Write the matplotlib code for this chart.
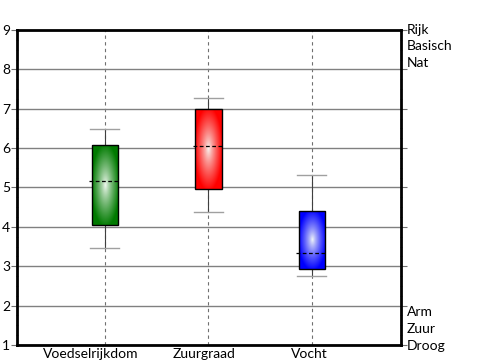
import numpy as np
import matplotlib
matplotlib.use("Agg")
import matplotlib.pyplot as plt
from matplotlib.patches import Rectangle
from matplotlib.ticker import MultipleLocator

# Gegevens
categorieen = ["Voedselrijkdom", "Zuurgraad", "Vocht"]
box_laag = [4.05, 4.96, 2.93]
box_hoog = [6.08, 7.00, 4.41]
mediaan = [5.17, 6.05, 3.34]
snor_laag = [3.46, 4.38, 2.74]
snor_hoog = [6.48, 7.27, 5.32]
kleuren = [(0.0, 0.48, 0.0), (1.0, 0.0, 0.0), (0.0, 0.0, 1.0)]
labels_boven = ["Rijk", "Basisch", "Nat"]
labels_onder = ["Arm", "Zuur", "Droog"]
label_verschuiving = [-0.135, -0.045, -0.025]

plt.rcParams['font.family'] = ['Lato', 'DejaVu Sans']

fig = plt.figure(figsize=(5, 3.6), dpi=100)
ax = fig.add_axes([0.034, 0.0417, 0.768, 0.875])

breedte = 0.26
for i, cat in enumerate(categorieen):
    # verticale stippellijn door de categorie
    ax.axvline(i, color='#707070', ls=(0, (3, 3)), lw=0.8, zorder=1)
    # snorharen
    ax.plot([i, i], [snor_laag[i], box_laag[i]], color='#404040', lw=0.8, zorder=2)
    ax.plot([i, i], [box_hoog[i], snor_hoog[i]], color='#404040', lw=0.8, zorder=2)
    ax.plot([i - 0.14, i + 0.14], [snor_laag[i]] * 2, color='#a0a0a0', lw=1.0, zorder=2)
    ax.plot([i - 0.14, i + 0.14], [snor_hoog[i]] * 2, color='#a0a0a0', lw=1.0, zorder=2)

    # doos met radiaal verloop
    x0, x1 = i - breedte / 2, i + breedte / 2
    y0, y1 = box_laag[i], box_hoog[i]
    nx, ny = 60, 120
    xx, yy = np.meshgrid(np.linspace(-1, 1, nx), np.linspace(-1, 1, ny))
    r = np.clip(np.sqrt(xx ** 2 + yy ** 2) / 1.05, 0, 1) ** 0.8
    c = np.array(kleuren[i])
    img = (1 - r[..., None]) * np.array([0.97, 0.99, 0.97]) + r[..., None] * c
    im = ax.imshow(img, extent=[x0, x1, y0, y1], aspect='auto', zorder=3,
                   interpolation='bilinear', origin='lower')
    rect = Rectangle((x0, y0), breedte, y1 - y0, fill=False, ec='black', lw=1.0, zorder=4)
    ax.add_patch(rect)
    im.set_clip_path(rect)
    ax.plot([x0 - 0.02, x1], [mediaan[i]] * 2, color='black', ls=(0, (3, 2)), lw=0.9, zorder=5)

    # categorielabel
    ax.text(i + label_verschuiving[i], -0.008, cat, transform=ax.get_xaxis_transform(),
            ha='center', va='top', fontsize=10)

ax.set_xlim(-0.85, 2.86)
ax.set_ylim(1, 9)
ax.set_xticks([])

ax.yaxis.set_major_locator(MultipleLocator(1))
ax.yaxis.set_minor_locator(MultipleLocator(0.25))
ax.tick_params(axis='y', which='major', direction='out', length=4, color='#707070',
               labelsize=10, pad=1, right=True)
ax.tick_params(axis='y', which='minor', direction='inout', length=2, width=0.6,
               color='#606060', right=True)
ax.grid(axis='y', which='major', color='#808080', lw=1.0, zorder=0)

for s in ax.spines.values():
    s.set_linewidth(2)
    s.set_color('black')

for k, t in enumerate(labels_boven):
    ax.text(1.015, 9 - k * 0.415, t, transform=ax.get_yaxis_transform(),
            va='center', ha='left', fontsize=10)
for k, t in enumerate(labels_onder):
    ax.text(1.015, 1.83 - k * 0.43, t, transform=ax.get_yaxis_transform(),
            va='center', ha='left', fontsize=10, clip_on=False)

fig.savefig("out.png", dpi=100)
